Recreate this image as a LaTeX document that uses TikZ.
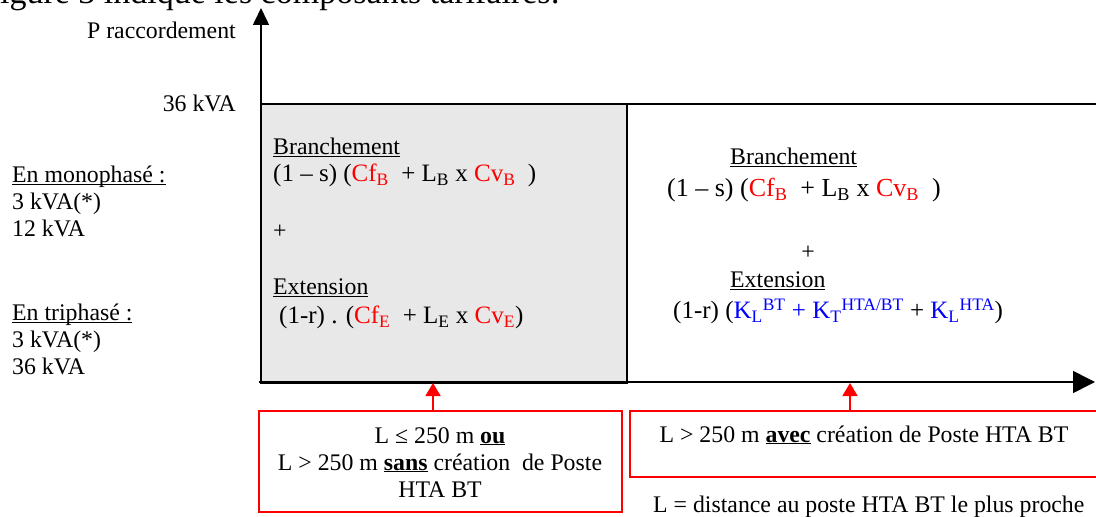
\documentclass[tikz,border=0pt]{standalone}
\usepackage{fontspec}
\setmainfont{Liberation Serif}
\usetikzlibrary{arrows.meta}
\definecolor{boxgray}{RGB}{232,232,232}
\definecolor{kblue}{RGB}{0,0,255}
\newcommand\ftx{\fontsize{23.8bp}{27bp}\selectfont}
\newcommand\fform{\fontsize{25bp}{27bp}\selectfont}
\newcommand\fformb{\fontsize{26bp}{27bp}\selectfont}
\newcommand\fbig{\fontsize{34bp}{40bp}\selectfont}
\newcommand\rd[1]{\textcolor{red}{#1}}
\newcommand\bl[1]{\textcolor{kblue}{#1}}
\newcommand\subx[1]{\textsubscript{#1}}
\newcommand\supx[1]{\textsuperscript{#1}}
\newcommand\ul[1]{\underline{\smash{#1}}}
\begin{document}
\begin{tikzpicture}[x=1bp,y=-1bp,
  txt/.style={inner sep=0pt, font=\ftx},
  form/.style={inner sep=0pt, font=\fform},
  formb/.style={inner sep=0pt, font=\fformb},
  axisline/.style={line width=1.6bp, black},
  yarrow/.style={axisline, -{Triangle[length=17bp,width=16bp]}},
  xarrow/.style={axisline, -{Triangle[length=22bp,width=22bp]}},
  graybox/.style={draw=black, line width=1.6bp, fill=boxgray, inner sep=0pt, outer sep=0pt},
  redbox/.style={draw=red, line width=1.2bp, inner sep=0pt, outer sep=0pt},
  redarrow/.style={draw=red, line width=1.5bp, -{Triangle[length=13bp,width=15bp]}, red}]
\useasboundingbox (0,0) rectangle (1096,517);
\clip (0,0) rectangle (1096,517);

% title (cropped, as in the reference)
\node[anchor=base west, inner sep=0pt, font=\fbig] (title) at (-19,4) {Figure 3 indique les composants tarifaires:};

% gray region and frame
\node[graybox, anchor=north west, minimum width=366bp, minimum height=279bp] (gbox) at (261,104) {};
\coordinate (topR) at (1096,104);
\coordinate (midT) at (627,104);
\coordinate (midB) at (627,382);
\draw[axisline] (gbox.north west) -- (topR);
\draw[axisline] (midT) -- (midB);

% axes
\coordinate (O) at (261,383);
\coordinate (Xs) at (259,382);
\coordinate (Ytop) at (261,8);
\coordinate (Xend) at (1095,382);
\draw[yarrow] (O) -- (Ytop);
\draw[xarrow] (Xs) -- (Xend);

% axis labels
\node[txt, anchor=base east] (praccord) at (236,39) {P raccordement};
\node[txt, anchor=base east] (kva36) at (236,112) {36 kVA};

% left column
\node[txt, anchor=base west] (mono) at (12,183) {\ul{En monophasé :}};
\node[txt, anchor=base west] (mono1) at (12,210) {3 kVA(*)};
\node[txt, anchor=base west] (mono2) at (12,237) {12 kVA};
\node[txt, anchor=base west] (tri) at (12,321) {\ul{En triphasé :}};
\node[txt, anchor=base west] (tri1) at (12,348) {3 kVA(*)};
\node[txt, anchor=base west] (tri2) at (12,375) {36 kVA};

% gray region text
\node[txt, anchor=base west] (gbr) at (273,155) {\ul{Branchement}};
\node[form, anchor=base west] (gbrf) at (273,182) {(1 – s) (\rd{Cf\subx{B}}\ \ + L\subx{B} x \rd{Cv\subx{B}}\ \ )};
\node[txt, anchor=base west] (gplus) at (273,239) {+};
\node[txt, anchor=base west] (gext) at (273,295) {\ul{Extension}};
\node[form, anchor=base west] (gextf) at (279,324) {(1-r) . (\rd{Cf\subx{E}}\ \ + L\subx{E} x \rd{Cv\subx{E}})};

% right region text
\node[txt, anchor=base west] (rbr) at (730,165) {\ul{Branchement}};
\node[formb, anchor=base west] (rbrf) at (667,197) {(1 – s) (\rd{Cf\subx{B}}\ \ + L\subx{B} x \rd{Cv\subx{B}}\ \ )};
\node[txt, anchor=base] (rplus) at (808,260) {+};
\node[txt, anchor=base west] (rext) at (730,288) {\ul{Extension}};
\node[form, anchor=base west] (rextf) at (673,319) {(1-r) (\bl{K\subx{L}\supx{BT} + K\subx{T}\supx{HTA/BT}} + \bl{K\subx{L}\supx{HTA}})};

% bottom boxes
\node[redbox, anchor=north west, minimum width=363bp, minimum height=101bp] (boxA) at (259,411) {};
\node[redbox, anchor=north west, minimum width=480bp, minimum height=66bp] (boxB) at (630,411) {};
\coordinate (tA) at (433,383);
\coordinate (tB) at (850,383);
\draw[redarrow] (boxA.north -| tA) -- (tA);
\draw[redarrow] (boxB.north -| tB) -- (tB);

\node[txt, anchor=base] (a1) at (440,443) {L ≤ 250 m \ul{\textbf{ou}}};
\node[txt, anchor=base] (a2) at (440,470) {L > 250 m \ul{\textbf{sans}} création\ \ de Poste};
\node[txt, anchor=base] (a3) at (440,497) {HTA BT};
\node[txt, anchor=base] (b1) at (864,442) {L > 250 m \ul{\textbf{avec}} création de Poste HTA BT};
\node[txt, anchor=base west] (note) at (653,512) {L = distance au poste HTA BT le plus proche};
\end{tikzpicture}
\end{document}
